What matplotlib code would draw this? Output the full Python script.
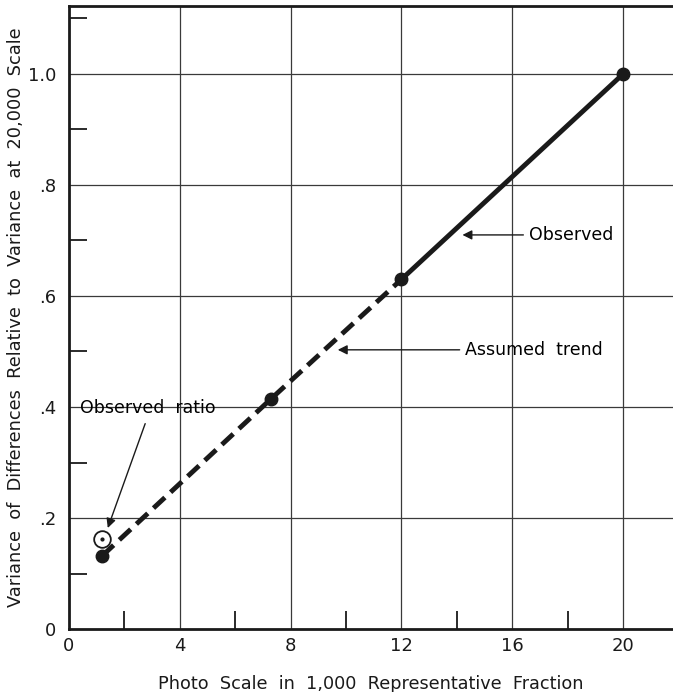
import numpy as np
import matplotlib.pyplot as plt
from matplotlib.ticker import FixedLocator

# data
scale_trend = [1.2, 7.3, 12.0]
ratio_trend = [0.132, 0.415, 0.63]
scale_obs = [12.0, 20.0]
ratio_obs = [0.63, 1.0]
observed_ratio_x = [1.2]
observed_ratio_y = [0.162]

x_major = [0, 4, 8, 12, 16, 20]
x_minor = [2, 6, 10, 14, 18]
y_major = [0, 0.2, 0.4, 0.6, 0.8, 1.0]
y_minor = [0.1, 0.3, 0.5, 0.7, 0.9, 1.1]
y_labels = ['0', '.2', '.4', '.6', '.8', '1.0']

ink = '#1a1a1a'

fig = plt.figure(figsize=(6.73, 6.92), dpi=100)
ax = fig.add_axes([0.1025, 0.091, 0.8975, 0.9])

ax.set_xlim(0, 21.8)
ax.set_ylim(0, 1.122)

# grid
for gx in x_major[1:]:
    ax.axvline(gx, color='#3a3a3a', lw=0.9, zorder=1)
for gy in y_major[1:]:
    ax.axhline(gy, color='#3a3a3a', lw=0.9, zorder=1)

# lines
ax.plot(scale_trend, ratio_trend, color=ink, lw=3.5, ls=(0, (3.2, 1.6)),
        zorder=3, solid_capstyle='butt')
ax.plot(scale_obs, ratio_obs, color=ink, lw=3.5, zorder=3)
ax.plot(scale_trend + scale_obs[1:], ratio_trend + ratio_obs[1:], 'o',
        color=ink, ms=9, zorder=4)

# observed ratio circle
ax.plot(observed_ratio_x, observed_ratio_y, 'o', mfc='white', mec=ink,
        mew=1.3, ms=12, zorder=4)
ax.plot(observed_ratio_x, observed_ratio_y, 'o', color=ink, ms=2, zorder=5)

arrow = dict(arrowstyle='-|>', color=ink, lw=1.0, mutation_scale=14)
ax.annotate('Observed', xy=(14.1, 0.71), xytext=(16.6, 0.71),
            ha='left', va='center', fontsize=12.5, arrowprops=arrow)
ax.annotate('Assumed  trend', xy=(9.6, 0.503), xytext=(14.3, 0.503),
            ha='left', va='center', fontsize=12.5, arrowprops=arrow)
ax.text(0.4, 0.398, 'Observed  ratio', ha='left', va='center', fontsize=12.5)
ax.annotate('', xy=(1.4, 0.182), xytext=(2.75, 0.37),
            arrowprops=dict(arrowstyle='-|>', color=ink, lw=1.0,
                            mutation_scale=14, shrinkA=0, shrinkB=0))

# spines
for side in ['left', 'bottom', 'top']:
    ax.spines[side].set_linewidth(2.0)
    ax.spines[side].set_color(ink)
ax.spines['right'].set_visible(False)

ax.xaxis.set_major_locator(FixedLocator(x_major))
ax.xaxis.set_minor_locator(FixedLocator(x_minor))
ax.yaxis.set_major_locator(FixedLocator(y_major))
ax.yaxis.set_minor_locator(FixedLocator(y_minor))
ax.set_yticklabels(y_labels)
ax.tick_params(which='major', length=0, labelsize=13, colors=ink)
ax.tick_params(axis='x', which='major', pad=6)
ax.tick_params(axis='y', which='major', pad=9)
ax.tick_params(which='minor', direction='in', length=13, width=1.3, color=ink)

ax.set_xlabel('Photo  Scale  in  1,000  Representative  Fraction',
              fontsize=12.7, labelpad=14, color=ink)
ax.set_ylabel('Variance  of  Differences  Relative  to  Variance  at  20,000  Scale',
              fontsize=12.8, color=ink)
ax.yaxis.set_label_coords(-0.072, 0.5)

fig.savefig('out.png', dpi=100)
